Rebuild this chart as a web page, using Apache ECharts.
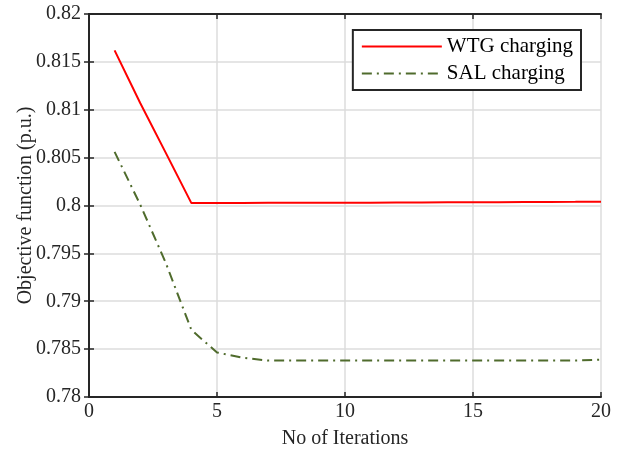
<!DOCTYPE html>
<html><head><meta charset="utf-8">
<script src="https://cdn.jsdelivr.net/npm/echarts@6/dist/echarts.min.js"></script>
<style>html,body{margin:0;padding:0;background:#fff}#c{width:618px;height:450px}</style>
</head><body><div id="c"></div>
<script>
var iterations = [1,2,3,4,5,6,7,8,9,10,11,12,13,14,15,16,17,18,19,20];
var wtg = [0.8162,0.8107,0.8055,0.80025,0.80026,0.80027,0.80028,0.80029,0.8003,0.8003,0.8003,0.80031,0.80032,0.80033,0.80034,0.80035,0.80036,0.80037,0.80038,0.8004];
var sal = [0.8056,0.8001,0.7940,0.7870,0.78465,0.7841,0.7838,0.7838,0.7838,0.7838,0.7838,0.7838,0.7838,0.7838,0.7838,0.7838,0.7838,0.7838,0.7838,0.7839];
var yTicks = ['0.78','0.785','0.79','0.795','0.8','0.805','0.81','0.815','0.82'];
var xTicks = [0,5,10,15,20];

var font = 'Liberation Serif';
var chart = echarts.init(document.getElementById('c'));
function pairs(ys){return iterations.map(function(x,i){return [x,ys[i]];});}
var boxAxis = {axisLine:{show:true,lineStyle:{color:'#262626',width:2}},axisTick:{show:true,inside:true,length:5,lineStyle:{color:'#262626',width:1.5}},axisLabel:{show:false},splitLine:{show:false}};
chart.setOption({
  animation:false,
  textStyle:{fontFamily:font},
  grid:{left:89,right:17,top:14,bottom:53,containLabel:false,outerBoundsMode:'none'},
  legend:{
    right:37,top:30,orient:'vertical',
    borderColor:'#262626',borderWidth:2,backgroundColor:'#fff',
    padding:[6,8,6,8],itemGap:6,itemWidth:80,itemHeight:20,
    itemStyle:{opacity:0},
    textStyle:{fontFamily:font,fontSize:21,color:'#000'},
    data:['WTG charging','SAL charging']
  },
  xAxis:[{
    type:'value',min:0,max:20,interval:5,
    name:'No of Iterations',nameLocation:'middle',nameGap:32,nameMoveOverlap:false,
    nameTextStyle:{fontFamily:font,fontSize:20,color:'#262626'},
    axisLine:{show:true,onZero:false,lineStyle:{color:'#262626',width:2}},
    axisTick:{show:true,inside:true,length:5,lineStyle:{color:'#262626',width:1.5}},
    axisLabel:{fontFamily:font,fontSize:20,color:'#262626',margin:5,formatter:function(v){return xTicks.indexOf(v)>=0?String(v):'';}},
    splitLine:{show:true,lineStyle:{color:'#dcdcdc',width:1.5}}
  },Object.assign({type:'value',min:0,max:20,interval:5,position:'top'},boxAxis)],
  yAxis:[{
    type:'value',min:0.78,max:0.82,interval:0.005,
    name:'Objective function (p.u.)',nameLocation:'middle',nameGap:53,nameMoveOverlap:false,
    nameTextStyle:{fontFamily:font,fontSize:20,color:'#262626'},
    axisLine:{show:true,onZero:false,lineStyle:{color:'#262626',width:2}},
    axisTick:{show:true,inside:true,length:5,lineStyle:{color:'#262626',width:1.5}},
    axisLabel:{fontFamily:font,fontSize:20,color:'#262626',margin:8,formatter:function(v){var i=Math.round((v-0.78)/0.005);return yTicks[i]||'';}},
    splitLine:{show:true,lineStyle:{color:'#dcdcdc',width:1.5}}
  },Object.assign({type:'value',min:0.78,max:0.82,interval:0.005,position:'right'},boxAxis)],
  series:[
    {name:'WTG charging',type:'line',data:pairs(wtg),showSymbol:false,symbol:'none',
     lineStyle:{color:'#ff0000',width:2},itemStyle:{color:'#ff0000'}},
    {name:'SAL charging',type:'line',data:pairs(sal),showSymbol:false,symbol:'none',
     lineStyle:{color:'#4f6b2c',width:2,type:[10,5,2,5]},itemStyle:{color:'#4f6b2c'}}
  ]
});
</script></body></html>
